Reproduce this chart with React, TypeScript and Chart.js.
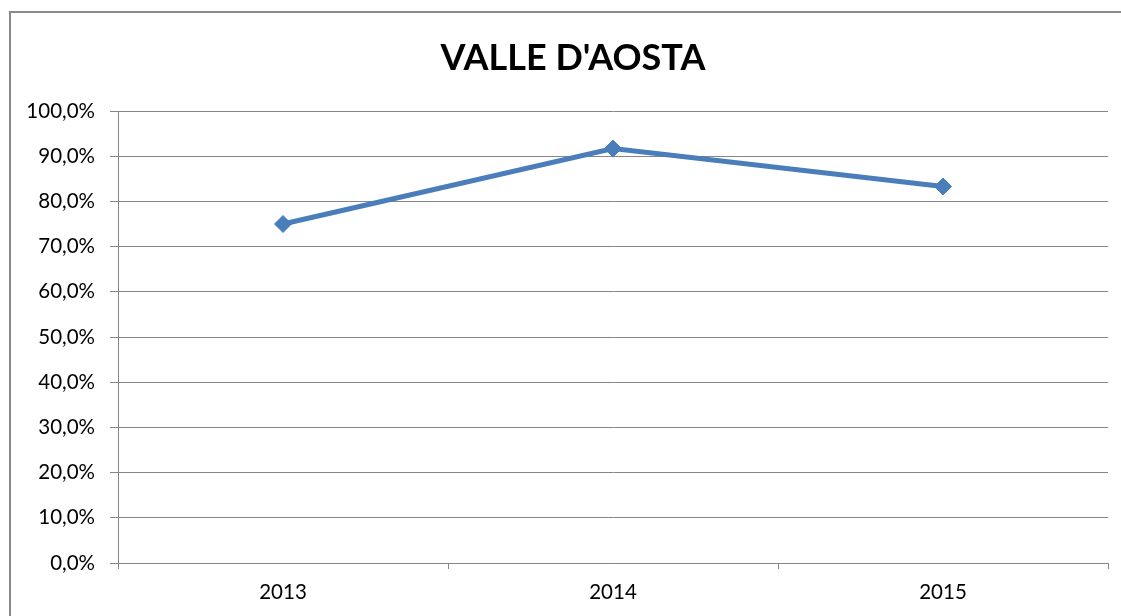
import React, { useEffect, useRef } from "react";
import { Chart, registerables } from "chart.js";

Chart.register(...registerables);

const categories = ["2013", "2014", "2015"];
const values = [0.75, 0.917, 0.833];
const chartTitle = "VALLE D'AOSTA";
const yTicks = [0, 0.1, 0.2, 0.3, 0.4, 0.5, 0.6, 0.7, 0.8, 0.9, 1.0];

const FONT = "Lato, 'Open Sans', sans-serif";

const frame = {
  id: "frame",
  beforeDraw(chart: any) {
    const ctx = chart.ctx;
    ctx.save();
    ctx.fillStyle = "#ffffff";
    ctx.fillRect(0, 0, chart.width, chart.height);
    ctx.strokeStyle = "#8a8a8a";
    ctx.lineWidth = 2;
    ctx.strokeRect(10, 12, 1200, 700);
    ctx.restore();
  },
  afterDraw(chart: any) {
    const ctx = chart.ctx;
    ctx.save();
    ctx.fillStyle = "#000000";
    ctx.font = `bold 36px ${FONT}`;
    ctx.textAlign = "center";
    ctx.textBaseline = "middle";
    ctx.fillText(chartTitle, 573, 58);
    ctx.restore();
  },
};

export default function App() {
  const ref = useRef<HTMLCanvasElement | null>(null);
  useEffect(() => {
    if (!ref.current) return;
    const chart = new Chart(ref.current, {
      type: "line",
      data: {
        labels: categories,
        datasets: [
          {
            label: chartTitle,
            data: values,
            borderColor: "#4a7ebb",
            backgroundColor: "#4a7ebb",
            borderWidth: 5,
            pointStyle: "rectRot",
            pointRadius: 8.5,
            pointBorderWidth: 1,
            pointBackgroundColor: "#4a7ebb",
            pointBorderColor: "#4a7ebb",
            tension: 0,
          },
        ],
      },
      options: {
        responsive: false,
        animation: false,
        layout: { padding: { left: 10, right: 13, top: 111, bottom: 0 } },
        plugins: {
          legend: { display: false },
          tooltip: { enabled: false },
          title: { display: false },
        },
        scales: {
          x: {
            type: "category",
            offset: true,
            grid: {
              display: true,
              offset: true,
              drawOnChartArea: false,
              drawTicks: true,
              tickLength: 6,
              color: "#868686",
              lineWidth: 1,
            },
            border: { display: true, color: "#868686", width: 1 },
            ticks: {
              color: "#000000",
              font: { family: FONT, size: 20.5 },
              padding: 11,
              maxRotation: 0,
            },
            afterFit: (axis: any) => {
              axis.height = 53;
            },
          },
          y: {
            min: 0,
            max: 1,
            afterBuildTicks: (axis: any) => {
              axis.ticks = yTicks.map((v) => ({ value: v }));
            },
            grid: {
              display: true,
              drawTicks: true,
              tickLength: 8,
              color: "#868686",
              lineWidth: 1,
            },
            border: { display: true, color: "#868686", width: 1 },
            ticks: {
              color: "#000000",
              font: { family: FONT, size: 20.5 },
              padding: 15,
              callback: (v: any) =>
                (Number(v) * 100).toFixed(1).replace(".", ",") + "%",
            },
            afterFit: (axis: any) => {
              axis.width = 108;
            },
          },
        },
      },
      plugins: [frame],
    });
    return () => chart.destroy();
  }, []);
  return (
    <div style={{ position: "absolute", left: 0, top: 0, width: 1121, height: 616 }}>
      <canvas ref={ref} width={1121} height={616} />
    </div>
  );
}
